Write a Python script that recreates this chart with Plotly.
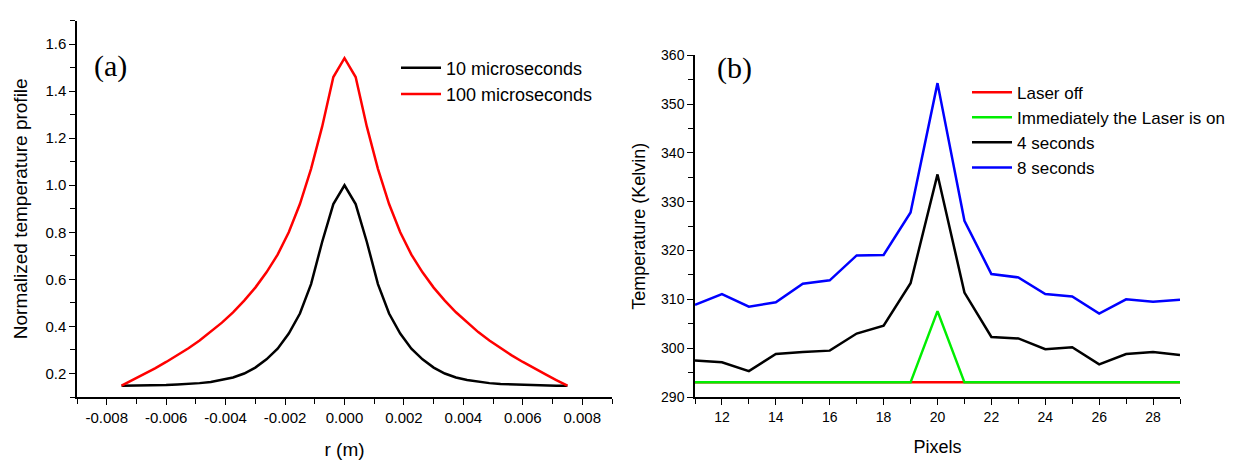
import plotly.graph_objects as go

# ---------------- Panel (a) data ----------------
r_m = [-0.0075, -0.007125, -0.00675, -0.006375, -0.006, -0.005625, -0.00525, -0.004875,
       -0.0045, -0.004125, -0.00375, -0.003375, -0.003, -0.002625, -0.00225, -0.001875,
       -0.0015, -0.001125, -0.00075, -0.000375, 0.0,
       0.000375, 0.00075, 0.001125, 0.0015, 0.001875, 0.00225, 0.002625, 0.003,
       0.003375, 0.00375, 0.004125, 0.0045, 0.004875, 0.00525, 0.005625, 0.006,
       0.006375, 0.00675, 0.007125, 0.0075]

profile_10us = [0.148, 0.148, 0.149, 0.150, 0.151, 0.153, 0.155, 0.159, 0.164, 0.172,
                0.183, 0.200, 0.225, 0.260, 0.305, 0.370, 0.455, 0.580, 0.760, 0.920, 1.000,
                0.920, 0.760, 0.580, 0.455, 0.370, 0.305, 0.260, 0.225, 0.200, 0.183,
                0.172, 0.164, 0.159, 0.155, 0.153, 0.151, 0.150, 0.149, 0.148, 0.148]

profile_100us = [0.148, 0.172, 0.197, 0.222, 0.249, 0.277, 0.307, 0.340, 0.376, 0.416,
                 0.460, 0.510, 0.565, 0.630, 0.705, 0.800, 0.920, 1.070, 1.250, 1.460, 1.540,
                 1.460, 1.250, 1.070, 0.920, 0.800, 0.705, 0.630, 0.565, 0.510, 0.460,
                 0.416, 0.376, 0.340, 0.307, 0.277, 0.249, 0.222, 0.197, 0.172, 0.148]

# ---------------- Panel (b) data ----------------
pixels = [11, 12, 13, 14, 15, 16, 17, 18, 19, 20, 21, 22, 23, 24, 25, 26, 27, 28, 29]
laser_off = [293.0] * 19
laser_on_now = [293.0, 293.0, 293.0, 293.0, 293.0, 293.0, 293.0, 293.0, 293.0, 307.6,
                293.0, 293.0, 293.0, 293.0, 293.0, 293.0, 293.0, 293.0, 293.0]
t_4s = [297.5, 297.1, 295.3, 298.8, 299.2, 299.5, 303.0, 304.6, 313.3, 335.6,
        311.4, 302.3, 302.0, 299.8, 300.2, 296.7, 298.8, 299.2, 298.6]
t_8s = [308.9, 311.1, 308.5, 309.4, 313.2, 313.9, 319.0, 319.1, 327.8, 354.3,
        326.1, 315.2, 314.5, 311.1, 310.6, 307.1, 310.0, 309.5, 309.9]

left_ticks = [-0.008, -0.006, -0.004, -0.002, 0.0, 0.002, 0.004, 0.006, 0.008]
left_ticktext = ["-0.008", "-0.006", "-0.004", "-0.002", "0.000", "0.002", "0.004", "0.006", "0.008"]
left_yticks = [0.2, 0.4, 0.6, 0.8, 1.0, 1.2, 1.4, 1.6]
left_yticktext = ["0.2", "0.4", "0.6", "0.8", "1.0", "1.2", "1.4", "1.6"]

FONT = "Liberation Sans, Arial, sans-serif"
LW = 2.5

fig = go.Figure()
fig.add_trace(go.Scatter(x=r_m, y=profile_10us, mode="lines", name="10 microseconds",
                         line=dict(color="#000000", width=LW), xaxis="x", yaxis="y",
                         legend="legend"))
fig.add_trace(go.Scatter(x=r_m, y=profile_100us, mode="lines", name="100 microseconds",
                         line=dict(color="#ff0000", width=LW), xaxis="x", yaxis="y",
                         legend="legend"))

fig.add_trace(go.Scatter(x=pixels, y=laser_off, mode="lines", name="Laser off",
                         line=dict(color="#ff0000", width=LW), xaxis="x2", yaxis="y2",
                         legend="legend2"))
fig.add_trace(go.Scatter(x=pixels, y=laser_on_now, mode="lines", name="Immediately the Laser is on",
                         line=dict(color="#00ee00", width=LW), xaxis="x2", yaxis="y2",
                         legend="legend2"))
fig.add_trace(go.Scatter(x=pixels, y=t_4s, mode="lines", name="4 seconds",
                         line=dict(color="#000000", width=LW), xaxis="x2", yaxis="y2",
                         legend="legend2"))
fig.add_trace(go.Scatter(x=pixels, y=t_8s, mode="lines", name="8 seconds",
                         line=dict(color="#0000ff", width=LW), xaxis="x2", yaxis="y2",
                         legend="legend2"))

W, H = 1236, 461
def fx(px):
    return px / W
def fy(py):
    return (H - py) / H

axis_common = dict(showgrid=False, zeroline=False, showline=True, linecolor="#000000",
                   linewidth=1.5, ticks="outside", ticklen=6, tickwidth=1.2,
                   tickcolor="#000000", mirror=False)

fig.update_layout(
    width=W, height=H,
    margin=dict(l=0, r=0, t=0, b=0),
    paper_bgcolor="white", plot_bgcolor="white",
    font=dict(family=FONT, color="#000000"),
    xaxis=dict(**axis_common, domain=[fx(77), fx(612)], anchor="y",
               range=[-0.009, 0.009], tickmode="array", tickvals=left_ticks,
               ticktext=left_ticktext, tickfont=dict(size=15),
               minor=dict(dtick=0.001, tick0=0, ticks="outside", ticklen=5,
                          tickcolor="#000000", tickwidth=1.2),
               title=dict(text="r (m)", font=dict(size=19), standoff=18)),
    yaxis=dict(**axis_common, domain=[fy(403), fy(13)], anchor="x",
               range=[0.1, 1.7], tickmode="array", tickvals=left_yticks,
               ticktext=left_yticktext, tickfont=dict(size=15),
               minor=dict(dtick=0.1, tick0=0, ticks="outside", ticklen=5,
                          tickcolor="#000000", tickwidth=1.2),
               title=dict(text="Normalized temperature profile", font=dict(size=19), standoff=13)),
    xaxis2=dict(**axis_common, domain=[fx(695), fx(1180)], anchor="y2",
                range=[11, 29], tickmode="linear", tick0=12, dtick=2,
                tickfont=dict(size=14),
                minor=dict(dtick=1, tick0=11, ticks="outside", ticklen=5,
                           tickcolor="#000000", tickwidth=1.2),
                title=dict(text="Pixels", font=dict(size=18), standoff=17)),
    yaxis2=dict(**axis_common, domain=[fy(403), fy(49)], anchor="x2",
                range=[290, 360], tickmode="linear", tick0=290, dtick=10,
                tickfont=dict(size=14),
                minor=dict(dtick=5, tick0=290, ticks="outside", ticklen=5,
                           tickcolor="#000000", tickwidth=1.2),
                title=dict(text="Temperature (Kelvin)", font=dict(size=18), standoff=11)),
    legend=dict(x=fx(396), y=fy(43), xanchor="left", yanchor="top",
                bgcolor="rgba(0,0,0,0)", font=dict(size=18, family=FONT),
                tracegroupgap=0, itemwidth=40),
    legend2=dict(x=fx(967), y=fy(69), xanchor="left", yanchor="top",
                 bgcolor="rgba(0,0,0,0)", font=dict(size=17, family=FONT),
                 tracegroupgap=0, itemwidth=40),
    annotations=[
        dict(text="(a)", x=fx(92), y=fy(60), xref="paper", yref="paper",
             xanchor="left", yanchor="middle", showarrow=False,
             font=dict(family="Liberation Serif, Times New Roman, serif", size=30)),
        dict(text="(b)", x=fx(715), y=fy(62), xref="paper", yref="paper",
             xanchor="left", yanchor="middle", showarrow=False,
             font=dict(family="Liberation Serif, Times New Roman, serif", size=30)),
    ],
)

fig.write_html("out.html", config={"displayModeBar": False},
               post_script="document.body.style.margin='0';document.body.style.overflow='hidden';")
